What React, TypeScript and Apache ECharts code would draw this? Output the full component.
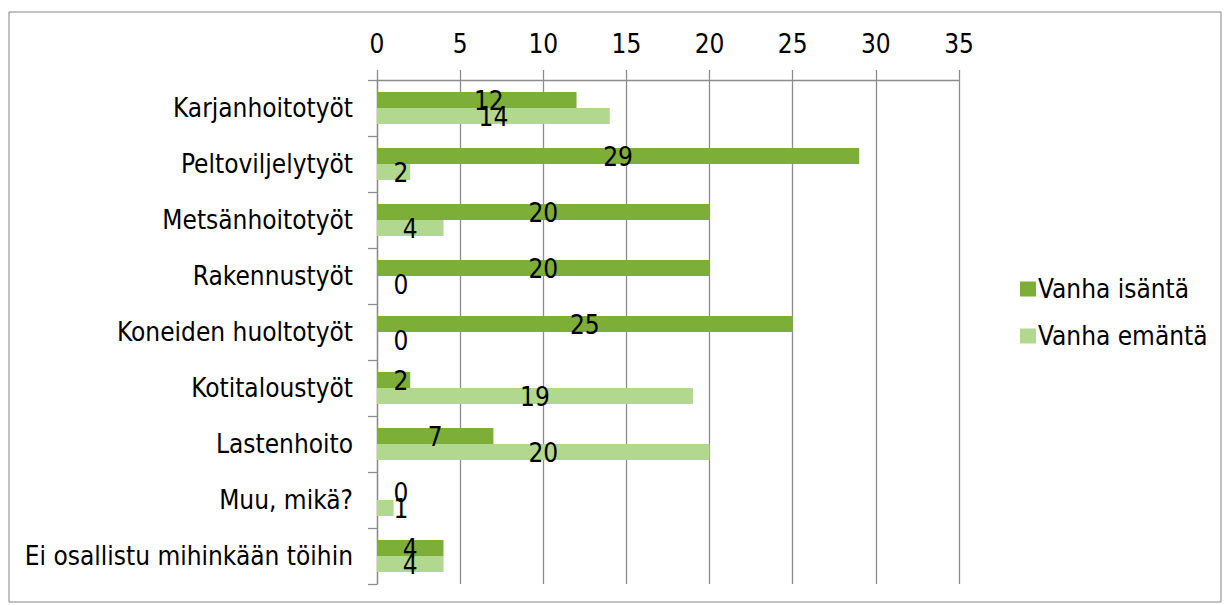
import React, { useEffect, useRef } from "react";
import * as echarts from "echarts";

const categories = [
  "Karjanhoitotyöt",
  "Peltoviljelytyöt",
  "Metsänhoitotyöt",
  "Rakennustyöt",
  "Koneiden huoltotyöt",
  "Kotitaloustyöt",
  "Lastenhoito",
  "Muu, mikä?",
  "Ei osallistu mihinkään töihin",
];
const isantaValues = [12, 29, 20, 20, 25, 2, 7, 0, 4];
const emantaValues = [14, 2, 4, 0, 0, 19, 20, 1, 4];
const xTicks = { min: 0, max: 35, interval: 5 };

const FONT = "'DejaVu Sans Condensed', 'DejaVu Sans', sans-serif";
const FS = 26;

function labelOffset(v: number, isDark: boolean): number {
  // Excel keeps small-bar labels a little away from the axis
  const pxPerUnit = 582 / 35;
  const centre = (v * pxPerUnit) / 2;
  let dx = Math.max(0, 24 - centre);
  if (isDark && v === 12) dx = 12;
  return dx;
}

export default function App() {
  const ref = useRef<HTMLDivElement>(null);
  useEffect(() => {
    if (!ref.current) return;
    const chart = echarts.init(ref.current, undefined, { renderer: "svg" });
    const mk = (vals: number[], dark: boolean) =>
      vals.map((v) => ({
        value: v,
        label: { offset: [labelOffset(v, dark), 1] },
      }));
    chart.setOption({
      animation: false,
      textStyle: { fontFamily: FONT },
      graphic: [
        {
          type: "rect",
          shape: { x: 9, y: 12, width: 1212, height: 590 },
          style: { fill: "none", stroke: "#868686", lineWidth: 1 },
        },
      ],
      legend: {
        orient: "vertical",
        left: 1015,
        top: 271,
        itemWidth: 16,
        itemHeight: 15,
        itemGap: 21,
        icon: "rect",
        textStyle: { fontFamily: FONT, fontSize: FS, lineHeight: 25, color: "#000", padding: [0, 0, 0, -3] },
        data: ["Vanha isäntä", "Vanha emäntä"],
      },
      grid: { left: 377, right: 265, top: 80, bottom: 21, containLabel: false },
      xAxis: {
        type: "value",
        position: "top",
        min: xTicks.min,
        max: xTicks.max,
        interval: xTicks.interval,
        axisLine: { show: true, lineStyle: { color: "#8c8c8c", width: 1.3 } },
        axisTick: { show: true, length: 10, lineStyle: { color: "#8c8c8c", width: 1.3 } },
        splitLine: { show: true, lineStyle: { color: "#8c8c8c", width: 1.3 } },
        axisLabel: { color: "#000", fontSize: FS, fontFamily: FONT, margin: 23 },
      },
      yAxis: {
        type: "category",
        inverse: true,
        data: categories,
        axisLine: { show: true, lineStyle: { color: "#8c8c8c", width: 1.3 } },
        axisTick: { show: true, length: 9, alignWithLabel: false, lineStyle: { color: "#8c8c8c", width: 1.3 } },
        axisLabel: { color: "#000", fontSize: FS, fontFamily: FONT, margin: 24 },
      },
      series: [
        {
          name: "Vanha isäntä",
          type: "bar",
          data: mk(isantaValues, true),
          barWidth: 16,
          barGap: "0%",
          itemStyle: { color: "#7DAF38" },
          label: { show: true, position: "inside", color: "#000", fontSize: FS, fontFamily: FONT },
        },
        {
          name: "Vanha emäntä",
          type: "bar",
          data: mk(emantaValues, false),
          barWidth: 16,
          barGap: "0%",
          itemStyle: { color: "#B1D88E" },
          label: { show: true, position: "inside", color: "#000", fontSize: FS, fontFamily: FONT },
        },
      ],
    });
    return () => chart.dispose();
  }, []);
  return (
    <div
      ref={ref}
      style={{ position: "absolute", left: 0, top: 0, width: 1224, height: 605 }}
    />
  );
}
